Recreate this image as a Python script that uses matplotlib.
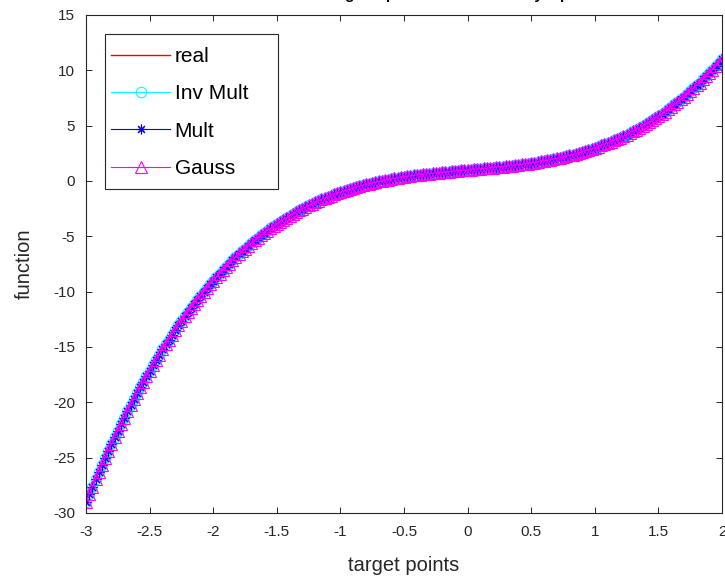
import numpy as np
import matplotlib
matplotlib.use("Agg")
import matplotlib.pyplot as plt
from matplotlib.patches import Rectangle

plt.rcParams['font.family'] = ['Liberation Sans', 'DejaVu Sans']

# target points and function values
x_start, x_stop, n_points = -3.0, 2.0, 201
real_y = [
    -29.00, -28.31, -27.62, -26.95, -26.29, -25.69, -25.00, -24.37, -23.75, -23.14,
    -22.55, -21.96, -21.38, -20.82, -20.26, -19.71, -19.18, -18.65, -18.13, -17.62,
    -17.13, -16.64, -16.16, -15.69, -15.22, -14.77, -14.33, -13.89, -13.47, -13.05,
    -12.64, -12.24, -11.85, -11.46, -11.09, -10.72, -10.36, -10.01, -9.67, -9.33,
    -9.00, -8.68, -8.36, -8.06, -7.76, -7.47, -7.18, -6.90, -6.63, -6.37,
    -6.11, -5.86, -5.61, -5.37, -5.14, -4.92, -4.70, -4.48, -4.27, -4.07,
    -3.88, -3.68, -3.50, -3.32, -3.14, -2.97, -2.81, -2.65, -2.50, -2.35,
    -2.20, -2.06, -1.93, -1.80, -1.67, -1.55, -1.43, -1.32, -1.21, -1.10,
    -1.00, -0.90, -0.81, -0.72, -0.63, -0.54, -0.46, -0.39, -0.31, -0.24,
    -0.17, -0.11, -0.04, 0.02, 0.08, 0.13, 0.18, 0.23, 0.28, 0.33,
    0.38, 0.42, 0.46, 0.50, 0.54, 0.57, 0.61, 0.64, 0.67, 0.70,
    0.73, 0.76, 0.79, 0.82, 0.85, 0.87, 0.90, 0.92, 0.95, 0.97,
    1.00, 1.03, 1.05, 1.08, 1.10, 1.13, 1.15, 1.18, 1.21, 1.24,
    1.27, 1.30, 1.33, 1.36, 1.39, 1.43, 1.46, 1.50, 1.54, 1.58,
    1.63, 1.67, 1.72, 1.77, 1.82, 1.87, 1.92, 1.98, 2.04, 2.11,
    2.17, 2.24, 2.31, 2.39, 2.46, 2.54, 2.63, 2.72, 2.81, 2.90,
    3.00, 3.10, 3.21, 3.32, 3.43, 3.55, 3.67, 3.80, 3.93, 4.06,
    4.20, 4.35, 4.50, 4.65, 4.81, 4.97, 5.14, 5.32, 5.50, 5.68,
    5.88, 6.07, 6.27, 6.48, 6.70, 6.92, 7.14, 7.37, 7.61, 7.86,
    8.11, 8.37, 8.63, 8.90, 9.18, 9.47, 9.76, 10.06, 10.36, 10.68,
    11.00,
]
# the three interpolants sit on top of the real curve
inv_mult_y = list(real_y)
mult_y = list(real_y)
gauss_y = list(real_y)

x_ticks = [-3, -2.5, -2, -1.5, -1, -0.5, 0, 0.5, 1, 1.5, 2]
y_ticks = [-30, -25, -20, -15, -10, -5, 0, 5, 10, 15]

x = np.linspace(x_start, x_stop, n_points)

W, H = 725, 577
fig = plt.figure(figsize=(W / 100, H / 100), dpi=100)
ax = fig.add_axes([86 / W, 1 - 513 / H, 636 / W, 498 / H])

ax.plot(x, real_y, '-', color='red', lw=1.0, label='real')
ax.plot(x, inv_mult_y, '-o', color='cyan', lw=0.8, ms=7.5, mfc='none', mew=0.8,
        label='Inv Mult')
ax.plot(x, mult_y, '-', marker=(8, 2, 0), color='blue', lw=0.8, ms=7, mew=0.8,
        label='Mult')
ax.plot(x, gauss_y, '-^', color='magenta', lw=0.8, ms=8.5, mfc='none', mew=0.8,
        label='Gauss')

ax.set_xlim(-3, 2)
ax.set_ylim(-30, 15)
ax.set_xticks(x_ticks)
ax.set_xticklabels([f'{t:g}' for t in x_ticks])
ax.set_yticks(y_ticks)
ax.set_yticklabels([f'{t:g}' for t in y_ticks])
ax.tick_params(direction='in', top=True, right=True, length=4, width=0.7,
               color='#262626', labelsize=11, labelcolor='#262626')
ax.tick_params(axis='x', pad=9)
ax.tick_params(axis='y', pad=8)
for s in ax.spines.values():
    s.set_color('#262626')
    s.set_linewidth(0.8)

ax.set_xlabel('target points', fontsize=14.5, color='#262626', labelpad=12)
ax.set_ylabel('function', fontsize=14.5, color='#262626', labelpad=14)

# title sits mostly above the figure edge, only descenders show
fig.text(0.555, 1 + 1.5 / H, 'Results of RBF fitting the plots of all kernels by 5 points',
         ha='center', va='baseline', fontsize=11, fontweight='bold')

# legend box drawn by hand so its size matches
box = Rectangle((105 / W, 1 - 189 / H), 173 / W, 155 / H, transform=fig.transFigure,
                facecolor='white', edgecolor='#262626', lw=0.8, zorder=4.9,
                clip_on=False)
ax.add_artist(box)
leg = ax.legend(loc='upper left', bbox_to_anchor=(111 / W, 1 - 47 / H),
                bbox_transform=fig.transFigure, borderaxespad=0, borderpad=0,
                fontsize=15, handlelength=2.85, labelspacing=0.88,
                handletextpad=0.2, frameon=False)
leg.set_zorder(6)

fig.savefig('out.png', dpi=100)
